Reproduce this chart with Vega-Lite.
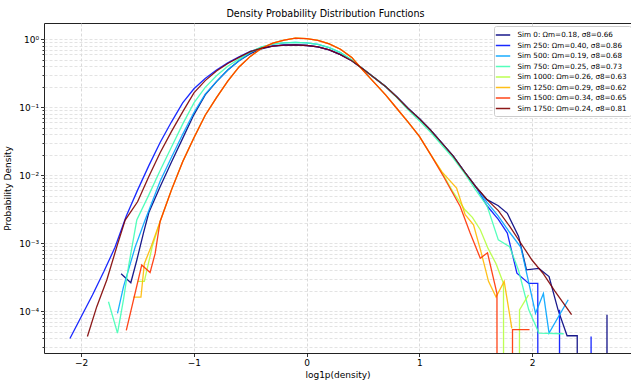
{
  "$schema": "https://vega.github.io/schema/vega-lite/v6.json",
  "width": 587,
  "height": 330,
  "autosize": "none",
  "padding": {"left": 44, "top": 23, "right": 0, "bottom": 30},
  "background": "white",
  "config": {
    "font": "DejaVu Sans",
    "view": {"stroke": "#222", "strokeWidth": 1}
  },
  "title": {"text": "Density Probability Distribution Functions", "fontSize": 9.6, "fontWeight": "normal", "color": "black", "offset": 4, "dx": -12},
  "data": {"values": [
    {"s":"0","x":-1.646,"y":3.55e-4},{"s":"0","x":-1.56,"y":2.63e-4},{"s":"0","x":-1.507,"y":5.62e-4},{"s":"0","x":-1.448,"y":1.41e-3},{"s":"0","x":-1.4,"y":2.82e-3},{"s":"0","x":-1.3,"y":6.76e-3},{"s":"0","x":-1.2,"y":0.0155},{"s":"0","x":-1.1,"y":0.0347},{"s":"0","x":-1.0,"y":0.0776},{"s":"0","x":-0.9,"y":0.151},{"s":"0","x":-0.8,"y":0.237},{"s":"0","x":-0.7,"y":0.351},{"s":"0","x":-0.6,"y":0.479},{"s":"0","x":-0.5,"y":0.61},{"s":"0","x":-0.4,"y":0.716},{"s":"0","x":-0.3,"y":0.785},{"s":"0","x":-0.2,"y":0.813},{"s":"0","x":-0.1,"y":0.822},{"s":"0","x":0,"y":0.805},{"s":"0","x":0.1,"y":0.766},{"s":"0","x":0.2,"y":0.692},{"s":"0","x":0.3,"y":0.589},{"s":"0","x":0.4,"y":0.479},{"s":"0","x":0.5,"y":0.363},{"s":"0","x":0.6,"y":0.269},{"s":"0","x":0.7,"y":0.2},{"s":"0","x":0.8,"y":0.141},{"s":"0","x":0.9,"y":0.0955},{"s":"0","x":1.0,"y":0.0676},{"s":"0","x":1.1,"y":0.0457},{"s":"0","x":1.2,"y":0.0295},{"s":"0","x":1.3,"y":0.0191},{"s":"0","x":1.4,"y":0.0112},{"s":"0","x":1.5,"y":6.76e-3},{"s":"0","x":1.6,"y":4.37e-3},{"s":"0","x":1.7,"y":3.55e-3},{"s":"0","x":1.78,"y":2.75e-3},{"s":"0","x":1.88,"y":1.26e-3},{"s":"0","x":1.95,"y":4.07e-4},{"s":"0","x":2.06,"y":4.27e-4},{"s":"0","x":2.15,"y":3.24e-4},{"s":"0","x":2.23,"y":1.05e-4},{"s":"0","x":2.31,"y":4.37e-5},{"s":"0","x":2.4,"y":4.37e-5},{"s":"0","x":2.401,"y":1e-6},{"s":"0","x":2.663,"y":1e-6},{"s":"0","x":2.664,"y":8.91e-5},{"s":"0","x":2.665,"y":1e-6},

    {"s":"250","x":-2.1,"y":3.98e-5},{"s":"250","x":-2.0,"y":8.32e-5},{"s":"250","x":-1.9,"y":1.74e-4},{"s":"250","x":-1.8,"y":3.8e-4},{"s":"250","x":-1.7,"y":8.71e-4},{"s":"250","x":-1.6,"y":2.51e-3},{"s":"250","x":-1.5,"y":6.03e-3},{"s":"250","x":-1.4,"y":0.0138},{"s":"250","x":-1.3,"y":0.0302},{"s":"250","x":-1.2,"y":0.0603},{"s":"250","x":-1.1,"y":0.115},{"s":"250","x":-1.0,"y":0.186},{"s":"250","x":-0.9,"y":0.263},{"s":"250","x":-0.8,"y":0.351},{"s":"250","x":-0.7,"y":0.447},{"s":"250","x":-0.6,"y":0.55},{"s":"250","x":-0.5,"y":0.661},{"s":"250","x":-0.4,"y":0.741},{"s":"250","x":-0.3,"y":0.794},{"s":"250","x":-0.2,"y":0.817},{"s":"250","x":-0.1,"y":0.822},{"s":"250","x":0,"y":0.803},{"s":"250","x":0.1,"y":0.766},{"s":"250","x":0.2,"y":0.692},{"s":"250","x":0.3,"y":0.589},{"s":"250","x":0.4,"y":0.479},{"s":"250","x":0.5,"y":0.363},{"s":"250","x":0.6,"y":0.269},{"s":"250","x":0.7,"y":0.2},{"s":"250","x":0.8,"y":0.141},{"s":"250","x":0.9,"y":0.0955},{"s":"250","x":1.0,"y":0.0676},{"s":"250","x":1.1,"y":0.0457},{"s":"250","x":1.2,"y":0.0295},{"s":"250","x":1.3,"y":0.0191},{"s":"250","x":1.4,"y":0.0112},{"s":"250","x":1.5,"y":6.76e-3},{"s":"250","x":1.6,"y":3.55e-3},{"s":"250","x":1.7,"y":2.24e-3},{"s":"250","x":1.78,"y":1.41e-3},{"s":"250","x":1.865,"y":3.63e-4},{"s":"250","x":1.97,"y":2.57e-4},{"s":"250","x":2.05,"y":2.57e-4},{"s":"250","x":2.051,"y":1e-6},{"s":"250","x":2.242,"y":1e-6},{"s":"250","x":2.243,"y":1.05e-4},{"s":"250","x":2.244,"y":1e-6},{"s":"250","x":2.522,"y":1e-6},{"s":"250","x":2.523,"y":4.27e-5},{"s":"250","x":2.524,"y":1e-6},

    {"s":"500","x":-1.678,"y":9.33e-5},{"s":"500","x":-1.625,"y":2.29e-4},{"s":"500","x":-1.52,"y":8.91e-4},{"s":"500","x":-1.433,"y":2.19e-3},{"s":"500","x":-1.4,"y":3.02e-3},{"s":"500","x":-1.3,"y":8.13e-3},{"s":"500","x":-1.2,"y":0.0182},{"s":"500","x":-1.1,"y":0.0398},{"s":"500","x":-1.0,"y":0.0832},{"s":"500","x":-0.9,"y":0.155},{"s":"500","x":-0.8,"y":0.237},{"s":"500","x":-0.7,"y":0.351},{"s":"500","x":-0.6,"y":0.479},{"s":"500","x":-0.5,"y":0.631},{"s":"500","x":-0.4,"y":0.759},{"s":"500","x":-0.3,"y":0.841},{"s":"500","x":-0.2,"y":0.881},{"s":"500","x":-0.1,"y":0.891},{"s":"500","x":0,"y":0.881},{"s":"500","x":0.1,"y":0.832},{"s":"500","x":0.2,"y":0.75},{"s":"500","x":0.3,"y":0.631},{"s":"500","x":0.4,"y":0.49},{"s":"500","x":0.5,"y":0.363},{"s":"500","x":0.6,"y":0.269},{"s":"500","x":0.7,"y":0.2},{"s":"500","x":0.8,"y":0.141},{"s":"500","x":0.9,"y":0.0955},{"s":"500","x":1.0,"y":0.0676},{"s":"500","x":1.1,"y":0.0457},{"s":"500","x":1.2,"y":0.0295},{"s":"500","x":1.3,"y":0.0191},{"s":"500","x":1.4,"y":0.0112},{"s":"500","x":1.5,"y":6.76e-3},{"s":"500","x":1.6,"y":3.98e-3},{"s":"500","x":1.7,"y":2.51e-3},{"s":"500","x":1.8,"y":1.45e-3},{"s":"500","x":1.9,"y":8.71e-4},{"s":"500","x":1.97,"y":2.63e-4},{"s":"500","x":2.03,"y":9.33e-5},{"s":"500","x":2.1,"y":1.82e-4},{"s":"500","x":2.15,"y":4.79e-5},{"s":"500","x":2.32,"y":1.48e-4},

    {"s":"750","x":-1.758,"y":1.38e-4},{"s":"750","x":-1.678,"y":4.79e-5},{"s":"750","x":-1.625,"y":1.48e-4},{"s":"750","x":-1.58,"y":4.57e-4},{"s":"750","x":-1.507,"y":2.19e-3},{"s":"750","x":-1.4,"y":5.13e-3},{"s":"750","x":-1.3,"y":0.0117},{"s":"750","x":-1.2,"y":0.0257},{"s":"750","x":-1.1,"y":0.0562},{"s":"750","x":-1.0,"y":0.115},{"s":"750","x":-0.9,"y":0.195},{"s":"750","x":-0.8,"y":0.288},{"s":"750","x":-0.7,"y":0.398},{"s":"750","x":-0.6,"y":0.507},{"s":"750","x":-0.5,"y":0.646},{"s":"750","x":-0.4,"y":0.767},{"s":"750","x":-0.3,"y":0.841},{"s":"750","x":-0.2,"y":0.881},{"s":"750","x":-0.1,"y":0.891},{"s":"750","x":0,"y":0.881},{"s":"750","x":0.1,"y":0.832},{"s":"750","x":0.2,"y":0.75},{"s":"750","x":0.3,"y":0.631},{"s":"750","x":0.4,"y":0.49},{"s":"750","x":0.5,"y":0.363},{"s":"750","x":0.6,"y":0.269},{"s":"750","x":0.7,"y":0.2},{"s":"750","x":0.8,"y":0.138},{"s":"750","x":0.9,"y":0.0912},{"s":"750","x":1.0,"y":0.0631},{"s":"750","x":1.1,"y":0.0427},{"s":"750","x":1.2,"y":0.0275},{"s":"750","x":1.3,"y":0.0178},{"s":"750","x":1.4,"y":0.0107},{"s":"750","x":1.5,"y":6.03e-3},{"s":"750","x":1.6,"y":3.55e-3},{"s":"750","x":1.7,"y":1.12e-3},{"s":"750","x":1.8,"y":8.91e-4},{"s":"750","x":1.88,"y":3.98e-4},{"s":"750","x":1.97,"y":1.05e-4},{"s":"750","x":2.06,"y":4.79e-5},{"s":"750","x":2.28,"y":4.68e-5},

    {"s":"1000","x":-1.5,"y":2.75e-4},{"s":"1000","x":-1.44,"y":2.75e-4},{"s":"1000","x":-1.37,"y":8.91e-4},{"s":"1000","x":-1.3,"y":2.09e-3},{"s":"1000","x":-1.2,"y":6.03e-3},{"s":"1000","x":-1.1,"y":0.0158},{"s":"1000","x":-1.0,"y":0.0355},{"s":"1000","x":-0.9,"y":0.0759},{"s":"1000","x":-0.8,"y":0.138},{"s":"1000","x":-0.7,"y":0.24},{"s":"1000","x":-0.6,"y":0.389},{"s":"1000","x":-0.5,"y":0.556},{"s":"1000","x":-0.4,"y":0.733},{"s":"1000","x":-0.3,"y":0.871},{"s":"1000","x":-0.2,"y":0.966},{"s":"1000","x":-0.1,"y":1.028},{"s":"1000","x":0,"y":1.012},{"s":"1000","x":0.1,"y":0.955},{"s":"1000","x":0.2,"y":0.851},{"s":"1000","x":0.3,"y":0.708},{"s":"1000","x":0.4,"y":0.537},{"s":"1000","x":0.5,"y":0.347},{"s":"1000","x":0.6,"y":0.229},{"s":"1000","x":0.7,"y":0.151},{"s":"1000","x":0.8,"y":0.0955},{"s":"1000","x":0.9,"y":0.0603},{"s":"1000","x":1.0,"y":0.0372},{"s":"1000","x":1.1,"y":0.02},{"s":"1000","x":1.2,"y":0.011},{"s":"1000","x":1.3,"y":5.62e-3},{"s":"1000","x":1.4,"y":3.16e-3},{"s":"1000","x":1.47,"y":2.4e-3},{"s":"1000","x":1.54,"y":1.58e-3},{"s":"1000","x":1.61,"y":8.32e-4},{"s":"1000","x":1.68,"y":5.01e-4},{"s":"1000","x":1.746,"y":2.57e-4},{"s":"1000","x":1.747,"y":1e-6},{"s":"1000","x":1.887,"y":1e-6},{"s":"1000","x":1.888,"y":1.05e-4},{"s":"1000","x":1.968,"y":1.74e-4},

    {"s":"1250","x":-1.537,"y":1.62e-4},{"s":"1250","x":-1.47,"y":1.62e-4},{"s":"1250","x":-1.44,"y":5.01e-4},{"s":"1250","x":-1.38,"y":8.91e-4},{"s":"1250","x":-1.3,"y":2.09e-3},{"s":"1250","x":-1.2,"y":6.03e-3},{"s":"1250","x":-1.1,"y":0.0158},{"s":"1250","x":-1.0,"y":0.0355},{"s":"1250","x":-0.9,"y":0.0759},{"s":"1250","x":-0.8,"y":0.138},{"s":"1250","x":-0.7,"y":0.24},{"s":"1250","x":-0.6,"y":0.389},{"s":"1250","x":-0.5,"y":0.556},{"s":"1250","x":-0.4,"y":0.733},{"s":"1250","x":-0.3,"y":0.871},{"s":"1250","x":-0.2,"y":0.966},{"s":"1250","x":-0.1,"y":1.028},{"s":"1250","x":0,"y":1.012},{"s":"1250","x":0.1,"y":0.955},{"s":"1250","x":0.2,"y":0.851},{"s":"1250","x":0.3,"y":0.708},{"s":"1250","x":0.4,"y":0.537},{"s":"1250","x":0.5,"y":0.347},{"s":"1250","x":0.6,"y":0.229},{"s":"1250","x":0.7,"y":0.151},{"s":"1250","x":0.8,"y":0.0955},{"s":"1250","x":0.9,"y":0.0603},{"s":"1250","x":1.0,"y":0.0372},{"s":"1250","x":1.1,"y":0.02},{"s":"1250","x":1.2,"y":0.0112},{"s":"1250","x":1.33,"y":6.46e-3},{"s":"1250","x":1.406,"y":2.63e-3},{"s":"1250","x":1.48,"y":1.86e-3},{"s":"1250","x":1.55,"y":7.08e-4},{"s":"1250","x":1.613,"y":2.75e-4},{"s":"1250","x":1.68,"y":1.62e-4},{"s":"1250","x":1.752,"y":2.75e-4},{"s":"1250","x":1.82,"y":5.62e-5},

    {"s":"1500","x":-1.6,"y":5.25e-5},{"s":"1500","x":-1.463,"y":4.79e-4},{"s":"1500","x":-1.389,"y":3.72e-4},{"s":"1500","x":-1.344,"y":7.08e-4},{"s":"1500","x":-1.3,"y":2.09e-3},{"s":"1500","x":-1.2,"y":6.03e-3},{"s":"1500","x":-1.1,"y":0.0158},{"s":"1500","x":-1.0,"y":0.0355},{"s":"1500","x":-0.9,"y":0.0759},{"s":"1500","x":-0.8,"y":0.138},{"s":"1500","x":-0.7,"y":0.24},{"s":"1500","x":-0.6,"y":0.389},{"s":"1500","x":-0.5,"y":0.556},{"s":"1500","x":-0.4,"y":0.733},{"s":"1500","x":-0.3,"y":0.871},{"s":"1500","x":-0.2,"y":0.966},{"s":"1500","x":-0.1,"y":1.028},{"s":"1500","x":0,"y":1.012},{"s":"1500","x":0.1,"y":0.955},{"s":"1500","x":0.2,"y":0.851},{"s":"1500","x":0.3,"y":0.708},{"s":"1500","x":0.4,"y":0.537},{"s":"1500","x":0.5,"y":0.347},{"s":"1500","x":0.6,"y":0.229},{"s":"1500","x":0.7,"y":0.151},{"s":"1500","x":0.8,"y":0.0955},{"s":"1500","x":0.9,"y":0.0603},{"s":"1500","x":1.0,"y":0.0372},{"s":"1500","x":1.1,"y":0.02},{"s":"1500","x":1.214,"y":9.55e-3},{"s":"1500","x":1.362,"y":3.47e-3},{"s":"1500","x":1.45,"y":1.41e-3},{"s":"1500","x":1.54,"y":6.03e-4},{"s":"1500","x":1.604,"y":7.24e-4},{"s":"1500","x":1.688,"y":1.82e-4},{"s":"1500","x":1.689,"y":1e-6},{"s":"1500","x":1.825,"y":1e-6},{"s":"1500","x":1.826,"y":5.37e-5},{"s":"1500","x":1.977,"y":5.37e-5},

    {"s":"1750","x":-1.945,"y":4.27e-5},{"s":"1750","x":-1.862,"y":1.17e-4},{"s":"1750","x":-1.773,"y":2.88e-4},{"s":"1750","x":-1.684,"y":8.91e-4},{"s":"1750","x":-1.61,"y":2.19e-3},{"s":"1750","x":-1.5,"y":4.07e-3},{"s":"1750","x":-1.4,"y":9.55e-3},{"s":"1750","x":-1.3,"y":0.0214},{"s":"1750","x":-1.2,"y":0.0437},{"s":"1750","x":-1.1,"y":0.0851},{"s":"1750","x":-1.0,"y":0.162},{"s":"1750","x":-0.9,"y":0.245},{"s":"1750","x":-0.8,"y":0.339},{"s":"1750","x":-0.7,"y":0.437},{"s":"1750","x":-0.6,"y":0.537},{"s":"1750","x":-0.5,"y":0.653},{"s":"1750","x":-0.4,"y":0.733},{"s":"1750","x":-0.3,"y":0.785},{"s":"1750","x":-0.2,"y":0.813},{"s":"1750","x":-0.1,"y":0.82},{"s":"1750","x":0,"y":0.803},{"s":"1750","x":0.1,"y":0.766},{"s":"1750","x":0.2,"y":0.692},{"s":"1750","x":0.3,"y":0.589},{"s":"1750","x":0.4,"y":0.479},{"s":"1750","x":0.5,"y":0.363},{"s":"1750","x":0.6,"y":0.269},{"s":"1750","x":0.7,"y":0.2},{"s":"1750","x":0.8,"y":0.141},{"s":"1750","x":0.9,"y":0.0955},{"s":"1750","x":1.0,"y":0.0676},{"s":"1750","x":1.1,"y":0.0457},{"s":"1750","x":1.2,"y":0.0295},{"s":"1750","x":1.3,"y":0.0191},{"s":"1750","x":1.4,"y":0.0112},{"s":"1750","x":1.5,"y":6.76e-3},{"s":"1750","x":1.6,"y":4.37e-3},{"s":"1750","x":1.7,"y":3.02e-3},{"s":"1750","x":1.8,"y":1.78e-3},{"s":"1750","x":1.9,"y":1.0e-3},{"s":"1750","x":2.0,"y":5.62e-4},{"s":"1750","x":2.1,"y":3.55e-4},{"s":"1750","x":2.2,"y":2.0e-4},{"s":"1750","x":2.35,"y":8.91e-5}
  ]},
  "mark": {"type": "line", "clip": true, "strokeWidth": 1.3, "opacity": 0.9},
  "encoding": {
    "x": {
      "field": "x", "type": "quantitative",
      "scale": {"domain": [-2.33, 2.877], "nice": false, "zero": false},
      "axis": {
        "title": "log1p(density)", "values": [-2, -1, 0, 1, 2],
        "labelExpr": "replace(datum.label, '-', '−')",
        "grid": true, "gridDash": [3, 2], "gridColor": "#d0d0d0", "gridWidth": 0.8,
        "domain": false, "tickColor": "black", "tickSize": 3.5, "tickWidth": 0.8,
        "labelFontSize": 9, "labelColor": "black", "labelPadding": 2,
        "titleFontSize": 9, "titleFontWeight": "normal", "titleColor": "black", "titlePadding": 3
      }
    },
    "y": {
      "field": "y", "type": "quantitative",
      "scale": {"type": "log", "domain": [2.44e-5, 1.72], "nice": false},
      "axis": {
        "title": "Probability Density",
        "values": [3e-5,4e-5,5e-5,6e-5,7e-5,8e-5,9e-5,0.0001,2e-4,3e-4,4e-4,5e-4,6e-4,7e-4,8e-4,9e-4,0.001,0.002,0.003,0.004,0.005,0.006,0.007,0.008,0.009,0.01,0.02,0.03,0.04,0.05,0.06,0.07,0.08,0.09,0.1,0.2,0.3,0.4,0.5,0.6,0.7,0.8,0.9,1],
        "labelExpr": "datum.value==1?'10⁰':datum.value==0.1?'10⁻¹':datum.value==0.01?'10⁻²':datum.value==0.001?'10⁻³':datum.value==0.0001?'10⁻⁴':''",
        "grid": true, "gridDash": [3, 2], "gridColor": "#dcdcdc", "gridWidth": 0.8,
        "domain": false, "tickColor": "black", "tickWidth": 0.8,
        "tickSize": {"condition": {"test": "datum.value==1||datum.value==0.1||datum.value==0.01||datum.value==0.001||datum.value==0.0001", "value": 3.5}, "value": 2},
        "labelFontSize": 9, "labelColor": "black", "labelPadding": 2,
        "titleFontSize": 9, "titleFontWeight": "normal", "titleColor": "black", "titlePadding": 6
      }
    },
    "color": {
      "field": "s", "type": "nominal",
      "scale": {
        "domain": ["0","250","500","750","1000","1250","1500","1750"],
        "range": ["#00007f","#0012ff","#00a4ff","#41ffb5","#b6ff41","#ffb900","#ff3200","#800000"]
      },
      "legend": {
        "title": null, "orient": "none", "legendX": 450, "legendY": 3,
        "labelExpr": "datum.label=='0'?'Sim 0: Ωm=0.18, σ8=0.66':datum.label=='250'?'Sim 250: Ωm=0.40, σ8=0.86':datum.label=='500'?'Sim 500: Ωm=0.19, σ8=0.68':datum.label=='750'?'Sim 750: Ωm=0.25, σ8=0.73':datum.label=='1000'?'Sim 1000: Ωm=0.26, σ8=0.63':datum.label=='1250'?'Sim 1250: Ωm=0.29, σ8=0.62':datum.label=='1500'?'Sim 1500: Ωm=0.34, σ8=0.65':'Sim 1750: Ωm=0.24, σ8=0.81'",
        "labelFontSize": 7.2, "labelColor": "black", "labelOffset": 9.5,
        "symbolType": "M-1.8,0H1.8", "symbolSize": 64, "symbolStrokeWidth": 1.5,
        "rowPadding": 1.5, "padding": 4, "strokeColor": "#cccccc", "fillColor": "white", "cornerRadius": 2
      }
    }
  }
}
